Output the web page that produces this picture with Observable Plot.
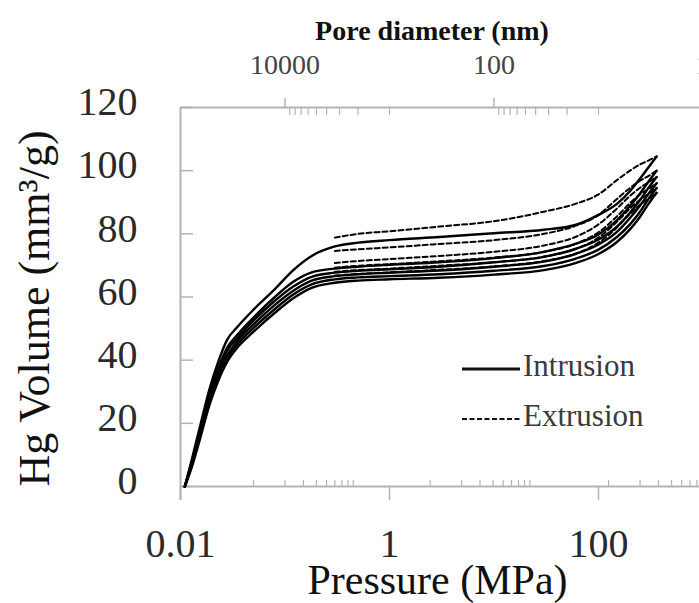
<!DOCTYPE html>
<html><head><meta charset="utf-8">
<script src="https://cdn.jsdelivr.net/npm/d3@7"></script>
<script src="https://cdn.jsdelivr.net/npm/@observablehq/plot@0.6"></script>
<style>
body{margin:0;background:#fff}
#chart{width:699px;height:603px;overflow:hidden;position:relative}
</style>
</head><body><div id="chart"></div>
<script>
// ---- data ----
const samples = ["A", "B", "C", "D", "E", "F"];
const intrusionP = [0.011, 0.0125, 0.0155, 0.019, 0.023, 0.028, 0.035, 0.05, 0.08, 0.12, 0.18, 0.3, 0.5, 1, 3, 10, 30, 60, 100, 150, 200, 250, 300, 360];
const intrusionA = [0, 7, 19.5, 31, 39.5, 46.5, 50.5, 56, 62.5, 68.5, 73, 76, 77.2, 78, 79, 80.2, 81.3, 82.8, 86, 89.5, 93.5, 97.5, 101, 104.5];
const intrusionB = [0, 6.5, 18.5, 29.5, 37.5, 44, 48, 53.5, 60, 64.8, 67.8, 69, 69.6, 70.2, 71, 72.3, 74.3, 76.8, 79.8, 84.3, 88.8, 92.8, 96.5, 100];
const intrusionC = [0, 6.5, 18, 29, 36.8, 43, 47, 52.5, 58.8, 63.3, 66.4, 67.7, 68.3, 68.8, 69.6, 71, 72.7, 75.2, 78.2, 82.3, 86.7, 90.7, 94.5, 98];
const intrusionD = [0, 6, 17.5, 28, 35.5, 41.5, 46, 51.3, 57.5, 62, 65.2, 66.6, 67.2, 67.7, 68.4, 69.6, 71.2, 73.6, 76.6, 80.6, 85, 89, 92.6, 96];
const intrusionE = [0, 5.5, 16.5, 27, 34.5, 40.5, 45, 50.2, 56.2, 60.8, 64, 65.6, 66.2, 66.6, 67.2, 68.3, 69.8, 72.1, 75, 79, 83, 87, 91, 94.5];
const intrusionF = [0, 5, 15.5, 26, 33.5, 39.5, 44, 49, 55, 59.6, 62.9, 64.5, 65.2, 65.6, 66.1, 67.1, 68.5, 70.7, 73.6, 77.4, 81.4, 85.4, 89.4, 93];
const extrusionP = [0.3, 0.5, 1, 3, 10, 30, 60, 100, 150, 200, 250, 300, 360];
const extrusionA = [78.8, 80, 80.8, 82.3, 84, 87, 89.5, 92.5, 97, 100, 102, 103.2, 104.5];
const extrusionB = [74.6, 75.1, 75.7, 76.8, 78, 80, 82.5, 86, 91, 94.5, 96.8, 98.3, 100];
const extrusionC = [70.8, 71.4, 72, 73, 74.3, 76.3, 79, 83, 88, 92, 94.6, 96.3, 98];
const extrusionD = [69.3, 69.9, 70.4, 71.3, 72.5, 74.3, 76.8, 80.5, 85.5, 89.7, 92.5, 94.2, 96];
const extrusionE = [68, 68.5, 69, 69.9, 71, 72.8, 75.2, 78.8, 83.8, 88, 90.8, 92.6, 94.5];
const extrusionF = [66.8, 67.3, 67.8, 68.6, 69.7, 71.4, 73.7, 77.2, 82, 86.3, 89.2, 91, 93];

const yTicks = [0, 20, 40, 60, 80, 100, 120];
const bottomMajor = [0.01, 1, 100];
const bottomMinorStarts = [0.05, 2.45, 125];
const minorMultipliers = [1, 2, 3, 4, 5, 6, 7, 8, 9];
const topMajorD = [10000, 100, 1];
const topMinorD = [9000, 8000, 7000, 6000, 5000, 4000, 3000, 2000, 1000, 90, 80, 70, 60, 50, 40, 30, 20, 10];
const washburnK = 1000; // nm·MPa
const legendItems = ["Intrusion", "Extrusion"];

// ---- build table ----
const intrusion = [intrusionA, intrusionB, intrusionC, intrusionD, intrusionE, intrusionF];
const extrusion = [extrusionA, extrusionB, extrusionC, extrusionD, extrusionE, extrusionF];
const intrRows = [], extrRows = [];
samples.forEach((s, i) => {
  intrusionP.forEach((p, j) => intrRows.push({sample: s, P: p, V: intrusion[i][j]}));
  extrusionP.forEach((p, j) => extrRows.push({sample: s, P: p, V: extrusion[i][j]}));
});
const bottomMinor = bottomMinorStarts.flatMap(s => minorMultipliers.map(k => s * k));
const topMajorP = topMajorD.map(d => washburnK / d);
const topMinorP = topMinorD.map(d => washburnK / d);

const gray = "#b3b3b3";
const font = "'Liberation Serif', 'Times New Roman', serif";
const tickOnly = {stroke: gray, strokeWidth: 1.5, tickFormat: () => "", label: null};

const legend = () => {
  const g = d3.create("svg:g").attr("font-family", font).attr("text-anchor", "start");
  legendItems.forEach((name, i) => {
    const y = 369 + i * 50;
    g.append("line").attr("x1", 462).attr("x2", 520).attr("y1", y).attr("y2", y)
      .attr("stroke", "#111").attr("stroke-width", i === 0 ? 3 : 2)
      .attr("stroke-dasharray", i === 0 ? null : "5,2.5");
    g.append("text").attr("x", 523).attr("y", y - 3).attr("dy", "0.32em")
      .attr("font-size", 31).attr("fill", "#3a3a3a").text(name);
  });
  return g.node();
};

const chart = Plot.plot({
  width: 699, height: 603,
  marginLeft: 180, marginRight: 0, marginTop: 107, marginBottom: 117,
  style: {fontFamily: font, background: "#fff", overflow: "hidden"},
  x: {type: "log", domain: [0.01, 1000], range: [180, 702.5], axis: null},
  y: {domain: [0, 120], range: [486, 107], axis: null},
  marks: [
    Plot.ruleY([0], {stroke: gray, strokeWidth: 2}),
    Plot.ruleY([120], {stroke: gray, strokeWidth: 2}),
    Plot.ruleX([0.01], {stroke: gray, strokeWidth: 2, insetBottom: -14}),
    Plot.axisY(yTicks, {anchor: "left", tickSize: 13, dx: 13, ...tickOnly}),
    Plot.text(yTicks, {y: d => d, text: d => String(d), frameAnchor: "left", textAnchor: "end", lineAnchor: "middle", dx: -43, dy: -5, fontSize: 40, fill: "#2a2a2a"}),
    Plot.axisX(bottomMajor, {anchor: "bottom", tickSize: 14, ...tickOnly}),
    Plot.text(bottomMajor, {x: d => d, text: d => String(d), frameAnchor: "bottom", textAnchor: "middle", lineAnchor: "middle", dy: 58, fontSize: 40, fill: "#2a2a2a"}),
    Plot.axisX(bottomMinor, {anchor: "bottom", tickSize: 6, dy: -6, ...tickOnly, strokeWidth: 1.2}),
    Plot.axisX(topMajorP, {anchor: "top", tickSize: 10, ...tickOnly}),
    Plot.text(topMajorP, {x: d => d, text: p => String(Math.round(washburnK / p)), frameAnchor: "top", textAnchor: "middle", lineAnchor: "middle", dy: -42, fontSize: 28, fill: "#444"}),
    Plot.axisX(topMinorP, {anchor: "top", tickSize: 7, dy: 7, ...tickOnly, strokeWidth: 1.2}),
    Plot.line(intrRows, {x: "P", y: "V", z: "sample", stroke: "#000", strokeWidth: 2.4, curve: "monotone-x"}),
    Plot.line(extrRows, {x: "P", y: "V", z: "sample", stroke: "#000", strokeWidth: 2, strokeDasharray: "5,3", curve: "monotone-x"}),
    Plot.text(["Pore diameter (nm)"], {frameAnchor: "top", textAnchor: "middle", lineAnchor: "middle", dx: -8, dy: -76, fontSize: 28, fontWeight: "bold", fill: "#111"}),
    Plot.text(["Pressure (MPa)"], {frameAnchor: "bottom", textAnchor: "middle", lineAnchor: "middle", dx: -2.5, dy: 94, fontSize: 42, fill: "#111"}),
    Plot.text(["Hg Volume (mm³/g)"], {frameAnchor: "left", textAnchor: "middle", lineAnchor: "middle", rotate: -90, dx: -146, dy: 11.5, fontSize: 44, letterSpacing: 0.5, fill: "#111"}),
    legend
  ]
});
document.getElementById("chart").appendChild(chart);
</script></body></html>
